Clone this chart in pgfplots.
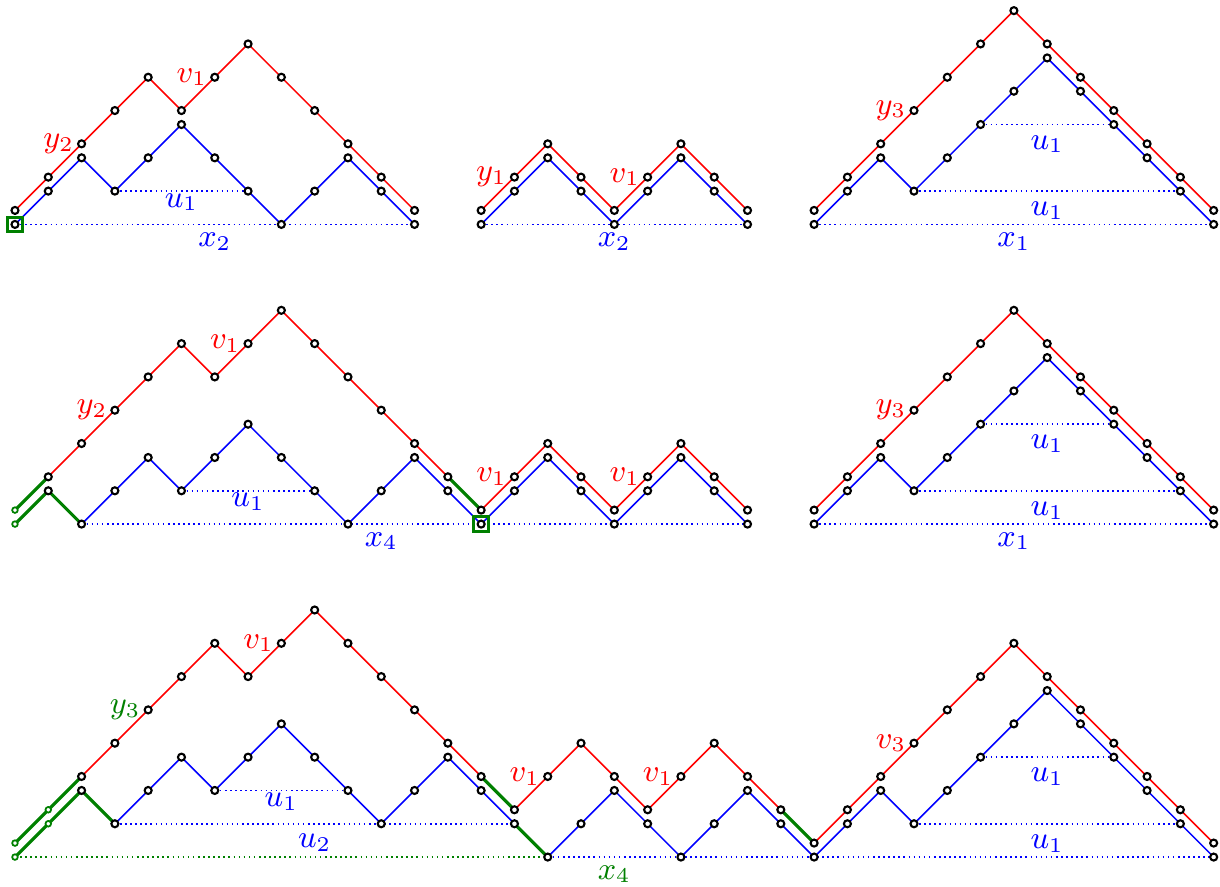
\documentclass[border=0pt]{standalone}
\usepackage{pgfplots}
\usepackage{pgfplotstable}
\pgfplotsset{compat=1.18}
\definecolor{pr}{RGB}{255,0,0}
\definecolor{pb}{RGB}{0,0,255}
\definecolor{pg}{RGB}{0,128,0}
\pgfplotsset{
 rl/.style={draw=pr, line width=0.45pt, mark=none},
 bl/.style={draw=pb, line width=0.45pt, mark=none},
 gl/.style={draw=pg, line width=0.9pt, mark=none},
 dl/.style={draw=pb, line width=0.45pt, densely dotted, mark=none},
 gdl/.style={draw=pg, line width=0.45pt, densely dotted, mark=none},
 bm/.style={only marks, mark=*, mark size=1pt, mark options={draw=black, fill=white, line width=0.6pt, solid}},
 gm/.style={only marks, mark=*, mark size=0.8pt, mark options={draw=pg, fill=white, line width=0.5pt, solid}},
 sq/.style={only marks, mark=square, mark size=2.1pt, mark options={draw=pg, line width=0.85pt, solid}},
}
% panel 1 (top left)
\pgfplotstableread[row sep=\\]{x y\\0 19.42\\1 20.42\\2 21.42\\3 22.42\\4 23.42\\5 22.42\\6 23.42\\7 24.42\\8 23.42\\9 22.42\\10 21.42\\11 20.42\\12 19.42\\}\rA
\pgfplotstableread[row sep=\\]{x y\\0 19\\1 20\\2 21\\3 20\\4 21\\5 22\\6 21\\7 20\\8 19\\9 20\\10 21\\11 20\\12 19\\}\bA
% panel 2 (top middle)
\pgfplotstableread[row sep=\\]{x y\\14 19.42\\15 20.42\\16 21.42\\17 20.42\\18 19.42\\19 20.42\\20 21.42\\21 20.42\\22 19.42\\}\rB
\pgfplotstableread[row sep=\\]{x y\\14 19\\15 20\\16 21\\17 20\\18 19\\19 20\\20 21\\21 20\\22 19\\}\bB
% panel 3 (top right)
\pgfplotstableread[row sep=\\]{x y\\24 19.42\\25 20.42\\26 21.42\\27 22.42\\28 23.42\\29 24.42\\30 25.42\\31 24.42\\32 23.42\\33 22.42\\34 21.42\\35 20.42\\36 19.42\\}\rC
\pgfplotstableread[row sep=\\]{x y\\24 19\\25 20\\26 21\\27 20\\28 21\\29 22\\30 23\\31 24\\32 23\\33 22\\34 21\\35 20\\36 19\\}\bC
% row 2 left
\pgfplotstableread[row sep=\\]{x y\\1 11.42\\2 12.42\\3 13.42\\4 14.42\\5 15.42\\6 14.42\\7 15.42\\8 16.42\\9 15.42\\10 14.42\\11 13.42\\12 12.42\\13 11.42\\14 10.42\\15 11.42\\16 12.42\\17 11.42\\18 10.42\\19 11.42\\20 12.42\\21 11.42\\22 10.42\\}\rD
\pgfplotstableread[row sep=\\]{x y\\1 11\\2 10\\3 11\\4 12\\5 11\\6 12\\7 13\\8 12\\9 11\\10 10\\11 11\\12 12\\13 11\\14 10\\15 11\\16 12\\17 11\\18 10\\19 11\\20 12\\21 11\\22 10\\}\bD
% row 2 right
\pgfplotstableread[row sep=\\]{x y\\24 10.42\\25 11.42\\26 12.42\\27 13.42\\28 14.42\\29 15.42\\30 16.42\\31 15.42\\32 14.42\\33 13.42\\34 12.42\\35 11.42\\36 10.42\\}\rE
\pgfplotstableread[row sep=\\]{x y\\24 10\\25 11\\26 12\\27 11\\28 12\\29 13\\30 14\\31 15\\32 14\\33 13\\34 12\\35 11\\36 10\\}\bE
% row 3
\pgfplotstableread[row sep=\\]{x y\\2 2.42\\3 3.42\\4 4.42\\5 5.42\\6 6.42\\7 5.42\\8 6.42\\9 7.42\\10 6.42\\11 5.42\\12 4.42\\13 3.42\\14 2.42\\15 1.42\\16 2.42\\17 3.42\\18 2.42\\19 1.42\\20 2.42\\21 3.42\\22 2.42\\23 1.42\\24 0.42\\25 1.42\\26 2.42\\27 3.42\\28 4.42\\29 5.42\\30 6.42\\31 5.42\\32 4.42\\33 3.42\\34 2.42\\35 1.42\\36 0.42\\}\rF
\pgfplotstableread[row sep=\\]{x y\\2 2\\3 1\\4 2\\5 3\\6 2\\7 3\\8 4\\9 3\\10 2\\11 1\\12 2\\13 3\\14 2\\15 1\\16 0\\17 1\\18 2\\19 1\\20 0\\21 1\\22 2\\23 1\\24 0\\25 1\\26 2\\27 1\\28 2\\29 3\\30 4\\31 5\\32 4\\33 3\\34 2\\35 1\\36 0\\}\bF
\begin{document}
\begin{tikzpicture}[every node/.append style={font=\fontsize{9}{11}\selectfont}]
\begin{axis}[hide axis, x=9.5pt, y=9.5pt,
  xmin=-0.45, xmax=36.19, ymin=-0.87, ymax=25.74, clip=false]
\addplot[draw=none, mark=none] coordinates {(-0.45,-0.87) (36.19,25.74)};
% dotted lines
\addplot[dl] coordinates {(3,20) (7,20)};
\addplot[dl] coordinates {(0,19) (12,19)};
\addplot[dl] coordinates {(14,19) (22,19)};
\addplot[dl] coordinates {(29,22) (33,22)};
\addplot[dl] coordinates {(27,20) (35,20)};
\addplot[dl] coordinates {(24,19) (36,19)};
\addplot[dl] coordinates {(2,10) (22,10)};
\addplot[dl] coordinates {(5,11) (9,11)};
\addplot[dl] coordinates {(29,13) (33,13)};
\addplot[dl] coordinates {(27,11) (35,11)};
\addplot[dl] coordinates {(24,10) (36,10)};
\addplot[gdl] coordinates {(0,0) (16,0)};
\addplot[dl] coordinates {(16,0) (36,0)};
\addplot[dl] coordinates {(3,1) (15,1)};
\addplot[dl] coordinates {(6,2) (10,2)};
\addplot[dl] coordinates {(29,3) (33,3)};
\addplot[dl] coordinates {(27,1) (35,1)};
% paths
\addplot[rl] table {\rA};
\addplot[bl] table {\bA};
\addplot[rl] table {\rB};
\addplot[bl] table {\bB};
\addplot[rl] table {\rC};
\addplot[bl] table {\bC};
\addplot[rl] table {\rD};
\addplot[bl] table {\bD};
\addplot[rl] table {\rE};
\addplot[bl] table {\bE};
\addplot[rl] table {\rF};
\addplot[bl] table {\bF};
% green pieces
\addplot[gl] coordinates {(0,10.42) (1,11.42)};
\addplot[gl] coordinates {(0,10) (1,11) (2,10)};
\addplot[gl] coordinates {(13,11.42) (14,10.42)};
\addplot[gl] coordinates {(0,0.42) (1,1.42) (2,2.42)};
\addplot[gl] coordinates {(0,0) (1,1) (2,2) (3,1)};
\addplot[gl] coordinates {(14,2.42) (15,1.42)};
\addplot[gl] coordinates {(15,1) (16,0)};
\addplot[gl] coordinates {(23,1.42) (24,0.42)};
% marks
\addplot[bm] table {\rA};
\addplot[bm] table {\bA};
\addplot[bm] table {\rB};
\addplot[bm] table {\bB};
\addplot[bm] table {\rC};
\addplot[bm] table {\bC};
\addplot[bm] table {\rD};
\addplot[bm] table {\bD};
\addplot[bm] table {\rE};
\addplot[bm] table {\bE};
\addplot[bm] table {\rF};
\addplot[bm] table {\bF};
\addplot[gm] coordinates {(0,10.42) (0,10) (0,0.42) (1,1.42) (0,0) (1,1)};
\addplot[sq] coordinates {(0,19) (14,10)};
% labels: red / green left labels
\node[anchor=east, inner sep=0pt, xshift=-2pt, text=pr] at (axis cs:6,23.42) {$v_1$};
\node[anchor=east, inner sep=0pt, xshift=-2pt, text=pr] at (axis cs:2,21.42) {$y_2$};
\node[anchor=east, inner sep=0pt, xshift=-2pt, text=pr] at (axis cs:15,20.42) {$y_1$};
\node[anchor=east, inner sep=0pt, xshift=-2pt, text=pr] at (axis cs:19,20.42) {$v_1$};
\node[anchor=east, inner sep=0pt, xshift=-2pt, text=pr] at (axis cs:27,22.42) {$y_3$};
\node[anchor=east, inner sep=0pt, xshift=-2pt, text=pr] at (axis cs:7,15.42) {$v_1$};
\node[anchor=east, inner sep=0pt, xshift=-2pt, text=pr] at (axis cs:3,13.42) {$y_2$};
\node[anchor=east, inner sep=0pt, xshift=-2pt, text=pr] at (axis cs:15,11.42) {$v_1$};
\node[anchor=east, inner sep=0pt, xshift=-2pt, text=pr] at (axis cs:19,11.42) {$v_1$};
\node[anchor=east, inner sep=0pt, xshift=-2pt, text=pr] at (axis cs:27,13.42) {$y_3$};
\node[anchor=east, inner sep=0pt, xshift=-2pt, text=pg] at (axis cs:4,4.42) {$y_3$};
\node[anchor=east, inner sep=0pt, xshift=-2pt, text=pr] at (axis cs:8,6.42) {$v_1$};
\node[anchor=east, inner sep=0pt, xshift=-2pt, text=pr] at (axis cs:16,2.42) {$v_1$};
\node[anchor=east, inner sep=0pt, xshift=-2pt, text=pr] at (axis cs:20,2.42) {$v_1$};
\node[anchor=east, inner sep=0pt, xshift=-2pt, text=pr] at (axis cs:27,3.42) {$v_3$};
% labels below lines
\node[anchor=north, inner sep=0pt, yshift=-0.5pt, text=pb] at (axis cs:5,20) {$u_1$};
\node[anchor=north, inner sep=0pt, yshift=-2.3pt, text=pb] at (axis cs:6,19) {$x_2$};
\node[anchor=north, inner sep=0pt, yshift=-2.3pt, text=pb] at (axis cs:18,19) {$x_2$};
\node[anchor=north, inner sep=0pt, yshift=-3pt, text=pb] at (axis cs:31,22) {$u_1$};
\node[anchor=north, inner sep=0pt, yshift=-3pt, text=pb] at (axis cs:31,20) {$u_1$};
\node[anchor=north, inner sep=0pt, yshift=-2.3pt, text=pb] at (axis cs:30,19) {$x_1$};
\node[anchor=north, inner sep=0pt, yshift=-0.5pt, text=pb] at (axis cs:7,11) {$u_1$};
\node[anchor=north, inner sep=0pt, yshift=-2.3pt, text=pb] at (axis cs:11,10) {$x_4$};
\node[anchor=north, inner sep=0pt, yshift=-3pt, text=pb] at (axis cs:31,13) {$u_1$};
\node[anchor=north, inner sep=0pt, yshift=-3pt, text=pb] at (axis cs:31,11) {$u_1$};
\node[anchor=north, inner sep=0pt, yshift=-2.3pt, text=pb] at (axis cs:30,10) {$x_1$};
\node[anchor=north, inner sep=0pt, yshift=-0.5pt, text=pb] at (axis cs:8,2) {$u_1$};
\node[anchor=north, inner sep=0pt, yshift=-2.7pt, text=pb] at (axis cs:9,1) {$u_2$};
\node[anchor=north, inner sep=0pt, yshift=-2.3pt, text=pg] at (axis cs:18,0) {$x_4$};
\node[anchor=north, inner sep=0pt, yshift=-3pt, text=pb] at (axis cs:31,3) {$u_1$};
\node[anchor=north, inner sep=0pt, yshift=-3pt, text=pb] at (axis cs:31,1) {$u_1$};
\end{axis}
\end{tikzpicture}
\end{document}
